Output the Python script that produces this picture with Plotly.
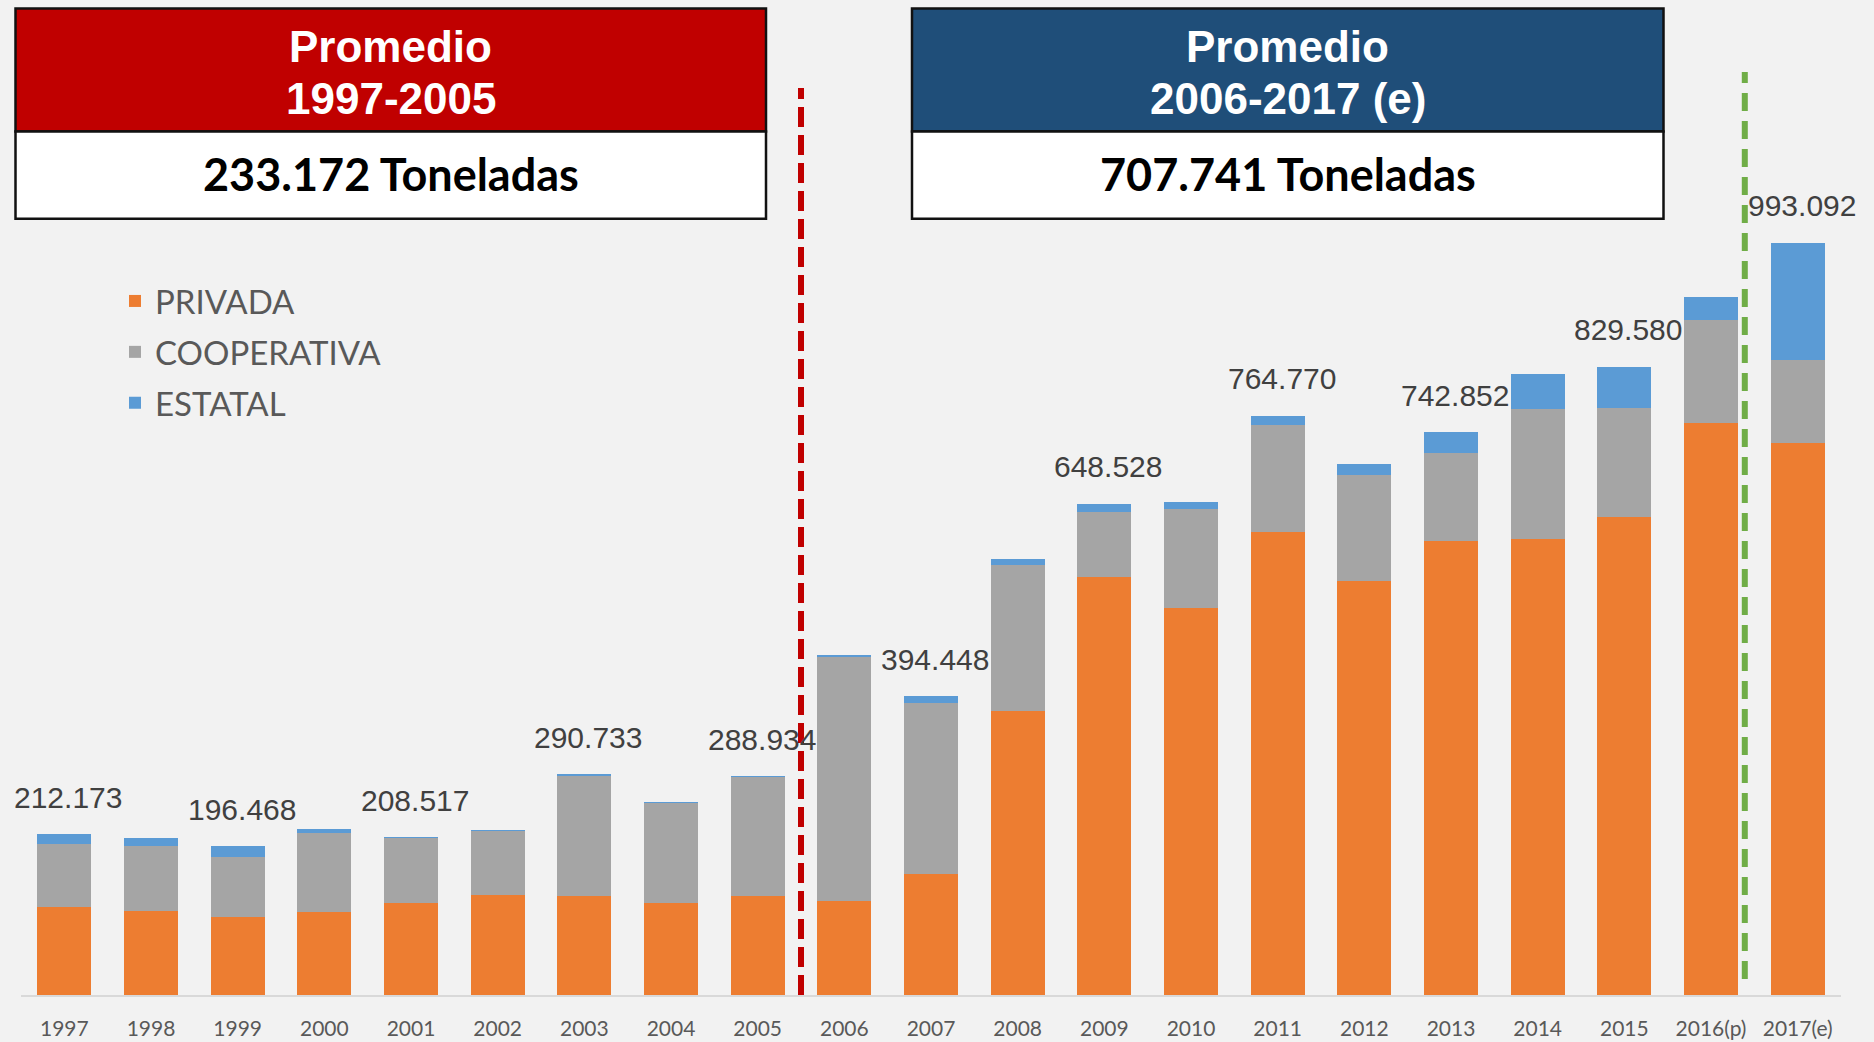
import plotly.graph_objects as go

# ---------------- data ----------------
years = ["1997", "1998", "1999", "2000", "2001", "2002", "2003", "2004", "2005",
         "2006", "2007", "2008", "2009", "2010", "2011", "2012", "2013", "2014",
         "2015", "2016(p)", "2017(e)"]

privada = [115800, 111300, 102500, 109600, 121000, 131600, 130200, 121000, 130200,
           124300, 159500, 375100, 552400, 511400, 611300, 547000, 598900, 602200,
           631400, 755200, 729200]
cooperativa = [83500, 85800, 79700, 104200, 87017, 85300, 160033, 132900, 158234,
               322800, 226548, 192500, 85428, 130300, 141570, 139500, 116852, 171800,
               143180, 135400, 108592]
estatal = [12873, 10100, 14268, 5300, 500, 300, 500, 300, 500,
           1000, 8400, 7500, 10700, 9600, 11900, 14600, 27100, 45700,
           55000, 30800, 155300]

labeled_years = ["1997", "1999", "2001", "2003", "2005", "2007", "2009", "2011",
                 "2013", "2015", "2017(e)"]

box_left_title = ["Promedio", "1997-2005"]
box_left_value = "233.172 Toneladas"
box_right_title = ["Promedio", "2006-2017 (e)"]
box_right_value = "707.741 Toneladas"

# ---------------- style ----------------
C_PRIV = "#ED7D31"
C_COOP = "#A5A5A5"
C_EST = "#5B9BD5"
BG = "#F2F2F2"

W, H = 1874, 1042
ML, MR, MT, MB = 21, 33, 0, 47
PW = W - ML - MR
PH = H - MT - MB
PX_PER_T = 1.0 / 1320.0
YMAX = PH / PX_PER_T


def xp(px):
    return (px - ML) / PW


def yp(py):
    return (H - MB - py) / PH


fig = go.Figure()
fig.add_trace(go.Bar(name="PRIVADA", x=years, y=privada, marker_color=C_PRIV,
                     marker_line_width=0, legendgroup="p"))
fig.add_trace(go.Bar(name="COOPERATIVA", x=years, y=cooperativa, marker_color=C_COOP,
                     marker_line_width=0, legendgroup="c"))
fig.add_trace(go.Bar(name="ESTATAL", x=years, y=estatal, marker_color=C_EST,
                     marker_line_width=0, legendgroup="e"))

totals = [p + c + e for p, c, e in zip(privada, cooperativa, estatal)]

annotations = []
for i, (yr, t) in enumerate(zip(years, totals)):
    if yr in labeled_years:
        annotations.append(dict(
            x=i, y=t, xref="x", yref="y", text=f"{t:,}".replace(",", "."),
            showarrow=False, yshift=37, xshift=4,
            font=dict(family="Liberation Sans, Arial, sans-serif", size=30, color="#404040")))

shapes = []
# title boxes
for (x0, x1, col) in [(15.5, 766, "#C00000"), (912, 1663.5, "#1F4E79")]:
    shapes.append(dict(type="rect", xref="paper", yref="paper",
                       x0=xp(x0), x1=xp(x1), y0=yp(131.5), y1=yp(8.4),
                       fillcolor=col, line=dict(color="#111111", width=2.5), layer="above"))
    shapes.append(dict(type="rect", xref="paper", yref="paper",
                       x0=xp(x0), x1=xp(x1), y0=yp(218.7), y1=yp(131.5),
                       fillcolor="#FFFFFF", line=dict(color="#111111", width=2.5), layer="above"))

# dashed separator lines
shapes.append(dict(type="line", xref="x", yref="paper", x0=8.5, x1=8.5,
                   y0=0, y1=yp(88), line=dict(color="#C00000", width=6, dash="20px,8px"),
                   layer="above"))
shapes.append(dict(type="line", xref="x", yref="paper", x0=19.39, x1=19.39,
                   y0=yp(979), y1=yp(72), line=dict(color="#70AD47", width=6, dash="18px,10px"),
                   layer="above"))

for cx, title, val in [((15.5 + 766) / 2, box_left_title, box_left_value),
                       ((912 + 1663.5) / 2, box_right_title, box_right_value)]:
    for line_txt, ypix in zip(title, [46.6, 99]):
        annotations.append(dict(x=xp(cx), y=yp(ypix), xref="paper", yref="paper",
                                text=f"<b>{line_txt}</b>", showarrow=False,
                                xanchor="center", yanchor="middle",
                                font=dict(family="Liberation Sans, Arial, sans-serif",
                                          size=44, color="#FFFFFF")))
    annotations.append(dict(x=xp(cx), y=yp(174.5), xref="paper", yref="paper",
                            text=f"<b>{val}</b>", showarrow=False,
                            xanchor="center", yanchor="middle",
                            font=dict(family="Lato, Liberation Sans, sans-serif",
                                      size=45, color="#000000")))

fig.update_layout(
    width=W, height=H,
    margin=dict(l=ML, r=MR, t=MT, b=MB, pad=0),
    barmode="stack", bargap=0.38,
    paper_bgcolor=BG, plot_bgcolor=BG,
    showlegend=True,
    legend=dict(x=xp(115), y=yp(273), xanchor="left", yanchor="top",
                traceorder="grouped", tracegroupgap=5,
                bgcolor="rgba(0,0,0,0)",
                font=dict(family="Lato, Liberation Sans, sans-serif", size=33, color="#595959")),
    xaxis=dict(type="category", showgrid=False, zeroline=False,
               showline=True, linecolor="#D9D9D9", linewidth=2,
               ticks="outside", ticklen=14, tickcolor="rgba(0,0,0,0)",
               tickfont=dict(family="Lato, Liberation Sans, sans-serif", size=21, color="#595959"),
               range=[-0.5, 20.5]),
    yaxis=dict(visible=False, range=[0, YMAX], showgrid=False, zeroline=False),
    shapes=shapes,
    annotations=annotations,
)

fig.write_html("out.html", config={"displayModeBar": False},
               post_script="document.body.style.margin='0';document.body.style.overflow='hidden';")
